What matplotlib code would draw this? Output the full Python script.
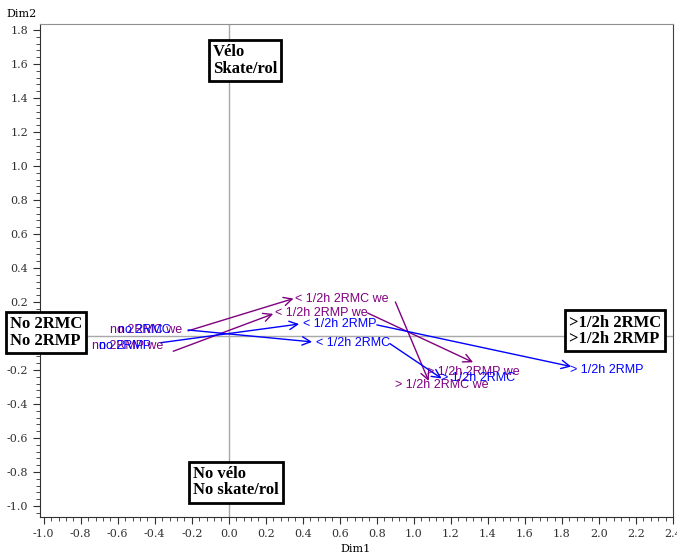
import numpy as np
import matplotlib
matplotlib.use("Agg")
import matplotlib.pyplot as plt
from matplotlib.ticker import MultipleLocator, AutoMinorLocator, FormatStrFormatter

PURPLE = "#800080"
BLUE = "#0000ff"

# arrows: start -> end (Dim1, Dim2), we = weekend (purple), wd = weekday (blue)
arrow_x0 = [-0.22, -0.30, -0.22, -0.37, 0.90, 0.75, 0.80, 0.87]
arrow_y0 = [0.03, -0.09, 0.035, -0.04, 0.20, 0.135, 0.065, -0.045]
arrow_x1 = [0.35, 0.24, 0.45, 0.38, 1.08, 1.32, 1.85, 1.15]
arrow_y1 = [0.22, 0.13, -0.035, 0.07, -0.265, -0.155, -0.18, -0.25]
arrow_grp = ["we", "we", "wd", "wd", "we", "we", "wd", "wd"]

# category labels
lab_text = ["no 2RMC we", "no 2RMC", "no 2RMP we", "no 2RMP",
            "< 1/2h 2RMC we", "< 1/2h 2RMP we", "< 1/2h 2RMP", "< 1/2h 2RMC",
            "> 1/2h 2RMP we", "> 1/2h 2RMC we", "> 1/2h 2RMC", "> 1/2h 2RMP"]
lab_x = [-0.64, -0.60, -0.74, -0.70,
         0.36, 0.25, 0.40, 0.47,
         1.07, 0.90, 1.145, 1.845]
lab_y = [0.035, 0.035, -0.06, -0.06,
         0.22, 0.135, 0.07, -0.04,
         -0.21, -0.29, -0.25, -0.20]
lab_grp = ["we", "wd", "we", "wd", "we", "we", "wd", "wd", "we", "we", "wd", "wd"]

# pole boxes
box_text = ["Vélo\nSkate/rol", "No 2RMC\nNo 2RMP", ">1/2h 2RMC\n>1/2h 2RMP", "No vélo\nNo skate/rol"]
box_x = [-0.086, -1.183, 1.839, -0.194]
box_y = [1.62, 0.02, 0.03, -0.86]

colors = {"we": PURPLE, "wd": BLUE}

fig = plt.figure(figsize=(6.77, 5.57), dpi=100)
ax = fig.add_axes([40 / 677, 1 - 517 / 557, 633 / 677, 493 / 557])
ax.set_xlim(-1.02, 2.4)
ax.set_ylim(-1.065, 1.835)

ax.axvline(0, color="#a8a8a8", lw=1, zorder=1)
ax.axhline(0, color="#a8a8a8", lw=1, zorder=1)

for x0, y0, x1, y1, g in zip(arrow_x0, arrow_y0, arrow_x1, arrow_y1, arrow_grp):
    ax.annotate("", xy=(x1, y1), xytext=(x0, y0),
                arrowprops=dict(arrowstyle="->,head_length=0.6,head_width=0.3",
                                color=colors[g], lw=1, shrinkA=0, shrinkB=0),
                zorder=3)

for s, x, y, g in zip(lab_text, lab_x, lab_y, lab_grp):
    ax.text(x, y, s, color=colors[g], fontsize=9, family="Liberation Sans",
            ha="left", va="center", zorder=4)

for s, x, y in zip(box_text, box_x, box_y):
    ax.text(x, y, s, fontsize=12, family="Liberation Serif", weight="bold",
            ha="left", va="center", linespacing=1.05, clip_on=False, zorder=5,
            bbox=dict(boxstyle="square,pad=0.25", fc="white", ec="black", lw=2))

ax.xaxis.set_major_locator(MultipleLocator(0.2))
ax.yaxis.set_major_locator(MultipleLocator(0.2))
ax.xaxis.set_minor_locator(AutoMinorLocator(5))
ax.yaxis.set_minor_locator(AutoMinorLocator(5))
ax.xaxis.set_major_formatter(FormatStrFormatter("%.1f"))
ax.yaxis.set_major_formatter(FormatStrFormatter("%.1f"))
ax.tick_params(which="major", direction="out", length=5, width=0.8, labelsize=8, colors="#303030")
ax.tick_params(which="minor", direction="out", length=3, width=0.6, colors="#303030")
for lbl in ax.get_xticklabels() + ax.get_yticklabels():
    lbl.set_family("DejaVu Serif")

ax.spines["top"].set_color("#909090")
ax.spines["right"].set_color("#404040")
ax.spines["left"].set_color("#303030")
ax.spines["bottom"].set_color("#303030")

fig.text(22 / 677, 1 - 14 / 557, "Dim2", fontsize=8, family="DejaVu Serif", ha="center", va="center")
fig.text(356 / 677, 1 - 549 / 557, "Dim1", fontsize=8, family="DejaVu Serif", ha="center", va="center")

fig.savefig("out.png", dpi=100)
